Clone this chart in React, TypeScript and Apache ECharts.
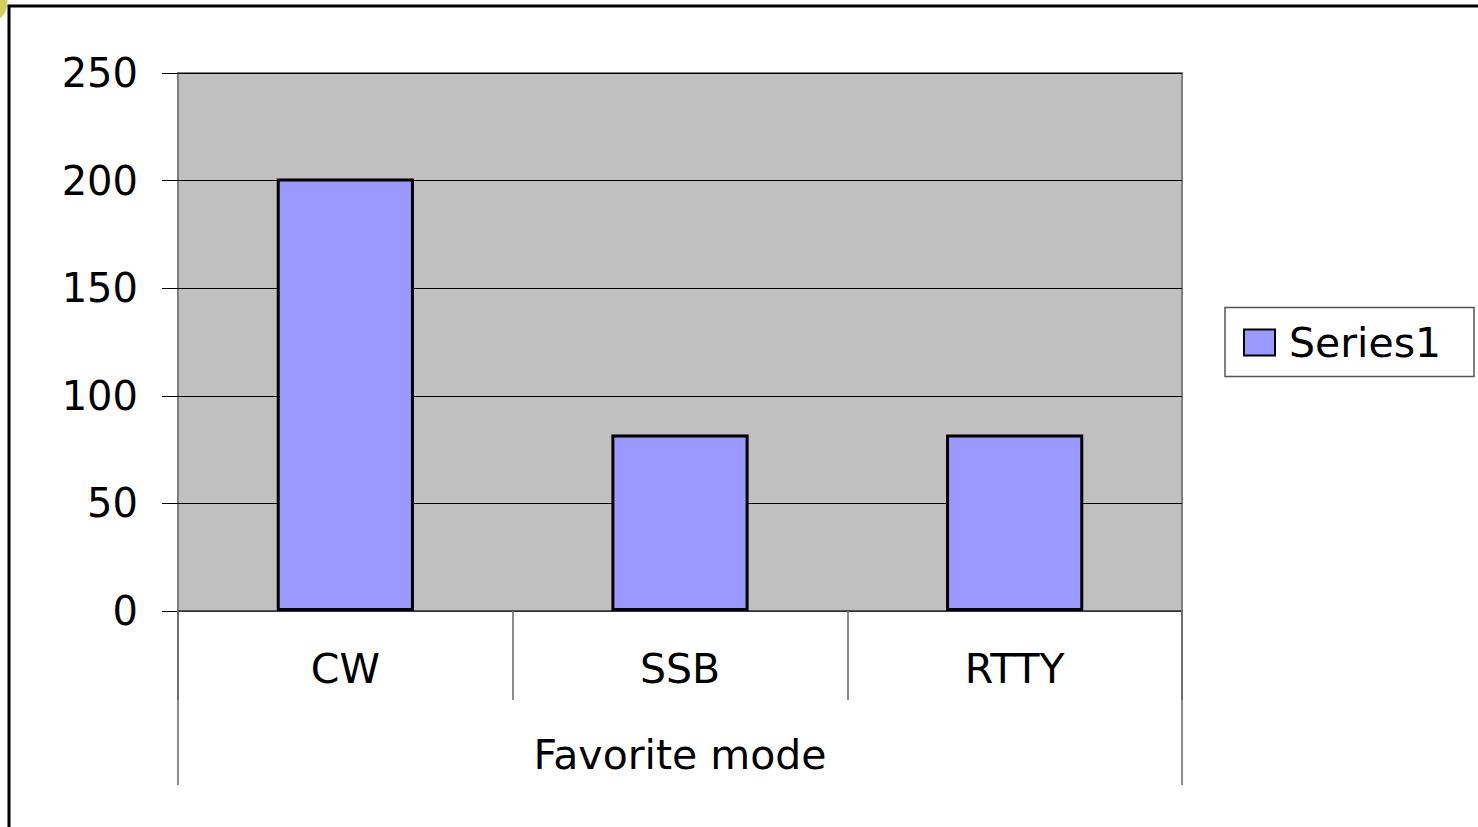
import React, { useEffect, useRef } from "react";
import * as echarts from "echarts";

const categories = ["CW", "SSB", "RTTY"];
const seriesValues = [201, 82, 82];
const groupLabels = ["Favorite mode"];
const seriesName = "Series1";
const yTicks = { min: 0, max: 250, interval: 50 };

const FONT = "DejaVu Sans, Arial, sans-serif";

export default function App() {
  const ref = useRef<HTMLDivElement>(null);
  useEffect(() => {
    document.body.style.margin = "0";
    document.body.style.overflow = "hidden";
    const chart = echarts.init(ref.current!, null, { renderer: "svg" });
    chart.setOption({
      animation: false,
      backgroundColor: "#ffffff",
      grid: {
        left: 178,
        top: 73,
        right: 296,
        bottom: 216,
        show: true,
        backgroundColor: "#C0C0C0",
        borderColor: "#808080",
        borderWidth: 2,
      },
      legend: {
        show: true,
        left: 1243,
        top: 322,
        padding: 0,
        icon: "rect",
        itemWidth: 31,
        itemHeight: 26,
        itemGap: 0,
        textStyle: {
          fontSize: 41,
          fontFamily: FONT,
          color: "#000",
          padding: [0, 0, 0, 9],
        },
        data: [seriesName],
      },
      xAxis: [
        {
          type: "category",
          data: categories,
          position: "bottom",
          axisLine: { show: true, lineStyle: { color: "#444", width: 1.5 } },
          axisTick: { show: true, length: 89, lineStyle: { color: "#666", width: 1.5 } },
          axisLabel: { margin: 37, fontSize: 41, fontFamily: FONT, color: "#000" },
          splitLine: { show: false },
        },
        {
          type: "category",
          data: groupLabels,
          position: "bottom",
          axisLine: { show: false },
          axisTick: { show: true, length: 174, lineStyle: { color: "#666", width: 1.5 } },
          axisLabel: { margin: 123, fontSize: 41, fontFamily: FONT, color: "#000" },
          splitLine: { show: false },
        },
      ],
      yAxis: {
        type: "value",
        min: yTicks.min,
        max: yTicks.max,
        interval: yTicks.interval,
        axisLine: { show: false },
        axisTick: { show: true, length: 16, lineStyle: { color: "#000", width: 1 } },
        axisLabel: { margin: 40, fontSize: 40, fontFamily: FONT, color: "#000" },
        splitLine: { show: true, lineStyle: { color: "#000", width: 1 } },
      },
      series: [
        {
          name: seriesName,
          type: "bar",
          data: seriesValues,
          barCategoryGap: "59%",
          itemStyle: { color: "#9999FF", borderColor: "#000", borderWidth: 3 },
        },
      ],
      graphic: [
        {
          type: "circle",
          shape: { cx: -12, cy: 3, r: 19.5 },
          style: { fill: "#CFD05F" },
          z: 1,
        },
        {
          type: "rect",
          shape: { x: 9, y: 6, width: 1600, height: 1000 },
          style: { fill: "none", stroke: "#000", lineWidth: 3 },
          z: 2,
          silent: true,
        },
        {
          type: "rect",
          shape: { x: 1225, y: 307.5, width: 249, height: 69 },
          style: { fill: "none", stroke: "#555", lineWidth: 1.5 },
          z: 2,
          silent: true,
        },
      ],
    });
    return () => chart.dispose();
  }, []);
  return <div ref={ref} style={{ width: 1478, height: 827 }} />;
}
